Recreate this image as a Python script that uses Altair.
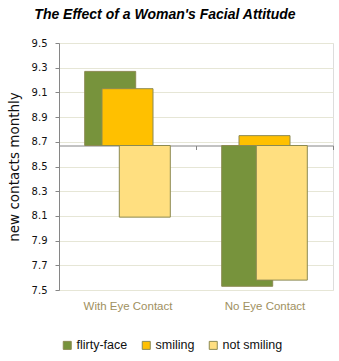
import altair as alt
import pandas as pd

categories = ["With Eye Contact", "No Eye Contact"]
series = ["flirty-face", "smiling", "not smiling"]
flirty_face = [9.27, 7.53]
smiling = [9.13, 8.75]
not_smiling = [8.09, 7.58]
baseline = 8.67
y_ticks = [7.5, 7.7, 7.9, 8.1, 8.3, 8.5, 8.7, 8.9, 9.1, 9.3, 9.5]
colors = ["#77933C", "#FFC000", "#FFDF80"]

rows = []
for i, cat in enumerate(categories):
    for s, vals in zip(series, [flirty_face, smiling, not_smiling]):
        rows.append({"category": cat, "series": s, "value": vals[i], "base": baseline})
df = pd.DataFrame(rows)

W, H = 274, 247
y_min, y_max = 7.5, 9.5
axis_offset = -H * (baseline - y_min) / (y_max - y_min)
band = W / len(categories)
step = 17.3
off_start = band / 2 - 1.5 * step
off_end = band / 2 + 1.5 * step

bars = alt.Chart(df).mark_bar(width=51, stroke="#8C8A52", strokeWidth=1).encode(
    x=alt.X("category:N", sort=categories,
            scale=alt.Scale(paddingInner=0, paddingOuter=0),
            axis=alt.Axis(title=None, offset=axis_offset, tickBand="extent",
                          domainColor="#868686", tickColor="#868686", tickSize=4,
                          labelPadding=-axis_offset + 6, labelAngle=0,
                          labelColor="#A09060", labelFont="Liberation Sans",
                          labelFontSize=11.5, grid=False)),
    xOffset=alt.XOffset("series:N", sort=series,
                        scale=alt.Scale(range=[off_start, off_end])),
    y=alt.Y("value:Q", scale=alt.Scale(domain=[y_min, y_max], nice=False, zero=False),
            axis=alt.Axis(title="new contacts monthly", values=y_ticks, format=".1f",
                          domainColor="#868686", tickColor="#868686", tickSize=4,
                          labelPadding=8, labelFont="DejaVu Sans", labelFontSize=10,
                          labelColor="#111111", gridColor="#E6E6D6",
                          titleFont="DejaVu Sans", titleFontSize=13.5,
                          titleFontWeight="normal", titleColor="#111111",
                          titlePadding=10)),
    y2=alt.Y2("base:Q"),
    color=alt.Color("series:N", sort=series,
                    scale=alt.Scale(domain=series, range=colors),
                    legend=alt.Legend(title=None, orient="none", direction="horizontal",
                                      legendX=2, legendY=296,
                                      symbolType="square", symbolSize=64,
                                      symbolStrokeColor="#8C8A52", symbolStrokeWidth=1,
                                      labelFont="Liberation Sans", labelFontSize=12.5,
                                      labelColor="#111111", labelOffset=3,
                                      columnPadding=12)),
    order=alt.Order("series_order:Q"),
).transform_calculate(
    series_order="indexof(['flirty-face','smiling','not smiling'], datum.series)"
)

chart = bars.properties(
    width=W, height=H,
    title=alt.TitleParams("The Effect of a Woman's Facial Attitude",
                          font="Liberation Sans", fontSize=14, fontWeight="bold",
                          fontStyle="italic", color="#000000", anchor="middle",
                          dx=-31, offset=16),
    autosize=alt.AutoSizeParams(type="none"),
    padding={"left": 59, "top": 43, "right": 6, "bottom": 71},
).configure_view(stroke=None).configure(background="white")

chart.save("out.html", embed_options={"renderer": "svg", "actions": False})
